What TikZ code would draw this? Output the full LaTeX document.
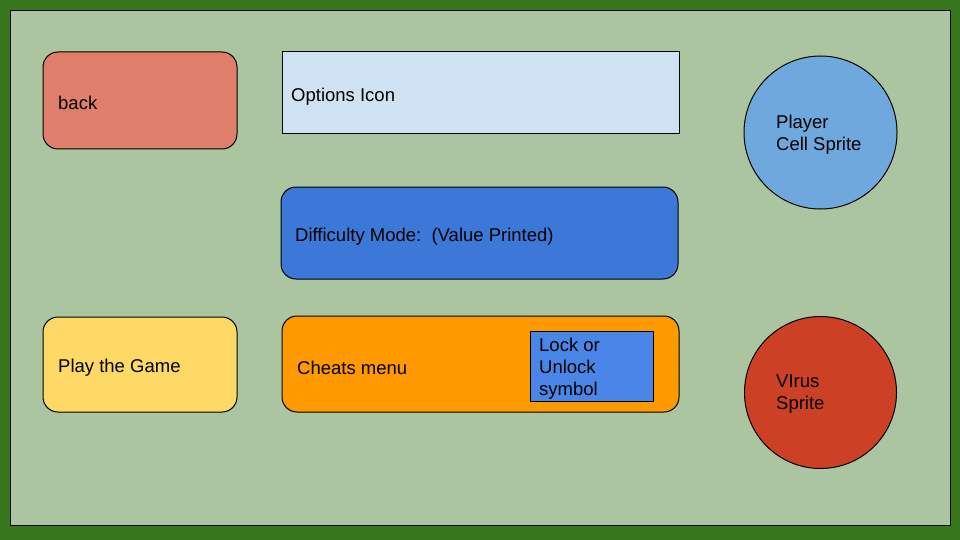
\documentclass[tikz,border=0pt]{standalone}
\usepackage{fontspec}
\setmainfont{Liberation Sans}
\definecolor{dkgreen}{HTML}{38761D}
\definecolor{bggreen}{HTML}{AAC5A0}
\definecolor{backred}{HTML}{DF7E6B}
\definecolor{optblue}{HTML}{CFE2F3}
\definecolor{diffblue}{HTML}{3C78D8}
\definecolor{playyellow}{HTML}{FFD966}
\definecolor{cheatorange}{HTML}{FF9900}
\definecolor{lockblue}{HTML}{4A86E8}
\definecolor{playerblue}{HTML}{6FA8DC}
\definecolor{virusred}{HTML}{CC4125}
\tikzset{
  box/.style={draw=black, line width=1pt},
  rbox/.style={box, rounded corners=15pt},
  lbl/.style={anchor=west, inner sep=0pt, align=left, font=\fontsize{18.5}{22}\selectfont, text=black},
}
\begin{document}
\begin{tikzpicture}[x=1pt, y=-1pt]
\useasboundingbox (0,0) rectangle (960,540);
\fill[dkgreen] (0,0) rectangle (960,540);
\draw[box, fill=bggreen] (10,11) rectangle (950,525);
% back
\draw[rbox, fill=backred] (43,52) rectangle (237,149);
\node[lbl] (back) at (58,103) {back};
% options
\draw[box, fill=optblue] (282,52) rectangle (679,134);
\node[lbl] (opt) at (291,97) {Options Icon};
% difficulty
\draw[rbox, fill=diffblue] (281,187) rectangle (678,279);
\node[lbl] (diff) at (295,237) {Difficulty Mode:\ \ (Value Printed)};
% play
\draw[rbox, fill=playyellow] (43,317) rectangle (237,412);
\node[lbl] (play) at (58,368) {Play the Game};
% cheats
\draw[rbox, fill=cheatorange] (282,316) rectangle (679,412);
\node[lbl] (cheat) at (297,368) {Cheats menu};
\draw[box, fill=lockblue] (530,331) rectangle (653,401);
\node[lbl] (lock) at (539,369) {Lock or\\Unlock\\symbol};
% circles
\node[circle, box, fill=playerblue, minimum size=153pt, inner sep=0pt] (player) at (820.5,132.5) {};
\node[lbl] (playertxt) at (776,135) {Player\\Cell Sprite};
\node[circle, box, fill=virusred, minimum size=152pt, inner sep=0pt] (virus) at (820.5,392.5) {};
\node[lbl] (virustxt) at (776,394) {VIrus\\Sprite};
\end{tikzpicture}
\end{document}
